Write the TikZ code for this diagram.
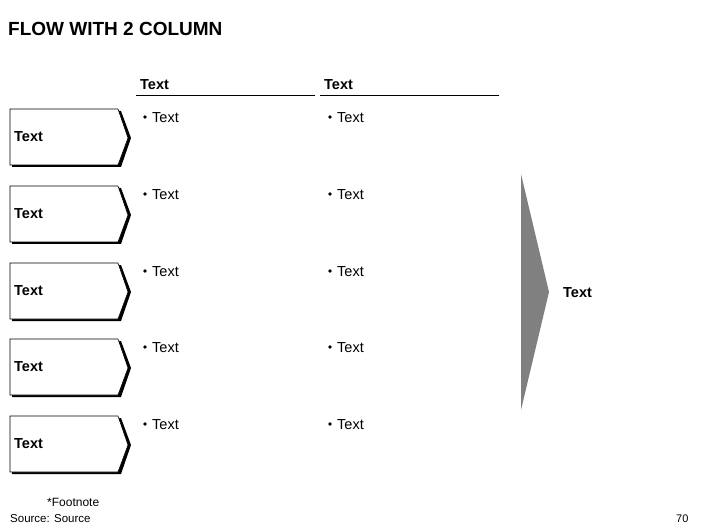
\documentclass[tikz,border=0pt]{standalone}
\usepackage{fontspec}
\setmainfont{Liberation Sans}
\usetikzlibrary{positioning}

\tikzset{
  bodytext/.style={font=\fontsize{14.5}{16}\selectfont, inner sep=0pt, anchor=west},
  headtext/.style={font=\bfseries\fontsize{14.5}{16}\selectfont, inner sep=0pt, anchor=west},
  smalltext/.style={font=\fontsize{12}{14}\selectfont, inner sep=0pt, anchor=west},
  bulletdot/.style={circle, fill=black, inner sep=0pt, minimum size=3.6pt},
  flowbox/.style={draw=black, line width=0.6pt, fill=white},
  flowshadow/.style={fill=black},
}

\begin{document}
\begin{tikzpicture}[x=1pt,y=-1pt]
        \useasboundingbox (0,0) rectangle (706,529);

        % Title
        \node[headtext, font=\bfseries\fontsize{19}{22}\selectfont] (title) at (8,29) {FLOW WITH 2 COLUMN};

        % Column headers
        \node[headtext] (headA) at (140,85) {Text};
        \node[headtext] (headB) at (324,85) {Text};
        \draw[line width=0.9pt] (136,95) -- (315,95);
        \draw[line width=0.9pt] (320,95) -- (499,95);

        % Rows of boxes with bullets
        \foreach \i/\y in {1/109, 2/186, 3/263, 4/339, 5/416} {
            \fill[flowshadow] (12,\y+2) -- (121,\y+2) -- (131,\y+29) -- (121,\y+58) -- (12,\y+58) -- cycle;
            \draw[flowbox] (10,\y) -- (118,\y) -- (128,\y+29) -- (118,\y+56) -- (10,\y+56) -- cycle;
            \node[headtext] (box\i) at (14,\y+28) {Text};
            \node[bulletdot] (dotL\i) at (145,\y+8) {};
            \node[bodytext] (left\i) at (152,\y+9) {Text};
            \node[bulletdot] (dotR\i) at (330,\y+8) {};
            \node[bodytext] (right\i) at (337,\y+9) {Text};
        }

        % Grey arrow
        \fill[gray] (521,174) -- (549,292) -- (521,410) -- cycle;
        \node[headtext] (result) at (563,293) {Text};

        % Footnote and source
        \node[smalltext] (foot) at (47,502) {*Footnote};
        \node[smalltext, font=\fontsize{11.5}{13}\selectfont] (source) at (10,519) {Source: Source};
        \node[smalltext, font=\fontsize{11}{13}\selectfont] (page) at (676,519) {70};
\end{tikzpicture}
\end{document}
